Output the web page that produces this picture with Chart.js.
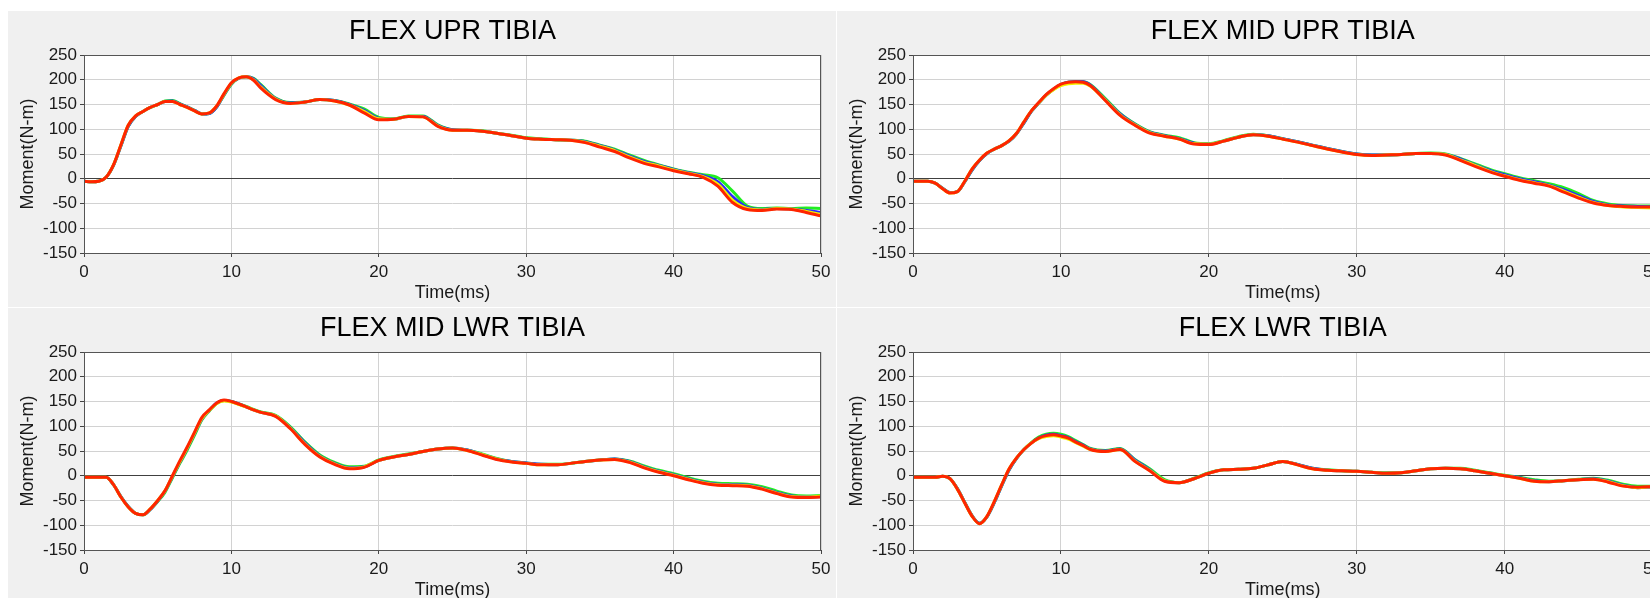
<!DOCTYPE html>
<html>
<head>
<meta charset="utf-8">
<script src="https://cdn.jsdelivr.net/npm/chart.js@4.4.1/dist/chart.umd.min.js"></script>
<style>
  html, body { margin: 0; padding: 0; background: #ffffff; width: 1650px; height: 598px; overflow: hidden; }
  .panel { position: absolute; }
  canvas { display: block; }
</style>
</head>
<body>
<div class="panel" style="left:8px;top:11px;"><canvas id="c1" width="828" height="296"></canvas></div>
<div class="panel" style="left:837px;top:11px;"><canvas id="c2" width="830" height="296"></canvas></div>
<div class="panel" style="left:8px;top:308px;"><canvas id="c3" width="828" height="296"></canvas></div>
<div class="panel" style="left:837px;top:308px;"><canvas id="c4" width="830" height="296"></canvas></div>
<script>
// ---- shared categories (time, ms) ----
const times = [0,0.5,1,1.5,2,2.5,3,3.5,4,4.5,5,5.5,6,6.5,7,7.5,8,8.5,9,9.5,10,10.5,11,11.5,12,
  13,14,15,16,17,18,19,20,21,22,23,24,25,26,27,28,29,30,31,32,33,34,35,36,37,38,39,40,41,42,43,44,45,46,47,48,49,50];

// ---- tick labels ----
const xTicks = [0,10,20,30,40,50];
const yTicks = [-150,-100,-50,0,50,100,150,200,250];

// ---- titles ----
const titles = ['FLEX UPR TIBIA','FLEX MID UPR TIBIA','FLEX MID LWR TIBIA','FLEX LWR TIBIA'];
const seriesNames = ['Run 4','Run 3','Run 2','Run 1'];
const seriesColors = ['#ff2400','#f2f200','#2a2aff','#22ee22'];

// ---- FLEX UPR TIBIA ----
const uprRed =    [-5,-6,-5,3,28,68,108,127,136,144,150,156,156,150,144,137,131,133,147,172,194,204,206,199,183,
  160,152,155,160,157,149,133,119,120,126,125,106,98,98,96,92,87,82,80,79,78,73,64,55,42,31,24,16,10,3,-15,-48,-62,-64,-61,-62,-68,-75];
const uprYellow = [-5,-6,-5,3,28,68,108,127,136,144,150,156,156,150,144,137,131,133,147,171,193,204,206,200,185,
  161,152,155,160,157,149,136,121,120,126,125,107,98,98,96,92,87,82,80,79,78,74,66,57,44,33,26,18,11,4,-11,-43,-60,-63,-60,-61,-66,-72];
const uprBlue =   [-5,-6,-5,3,27,66,106,126,136,144,150,156,157,151,145,138,131,132,145,170,192,203,206,202,188,
  162,153,155,160,158,150,138,122,120,126,126,108,99,98,96,92,87,82,80,79,78,75,67,58,46,35,27,19,12,6,-6,-36,-58,-62,-60,-61,-64,-68];
const uprGreen =  [-5,-6,-5,3,27,66,106,126,136,144,150,157,158,152,145,138,131,132,145,169,191,203,206,203,190,
  163,154,155,160,158,151,141,124,121,127,127,109,99,98,97,92,88,83,81,79,78,76,68,60,48,37,28,20,13,8,2,-25,-55,-60,-59,-60,-59,-60];

// ---- FLEX MID UPR TIBIA ----
const mupRed =    [-5,-5,-5,-9,-20,-29,-26,-5,20,38,52,60,67,77,92,115,137,154,170,182,191,195,196,195,188,
  158,128,108,92,86,80,70,69,76,84,89,86,80,74,67,60,54,49,47,48,49,51,51,48,37,25,14,5,-3,-9,-15,-27,-39,-49,-54,-56,-57,-57];
const mupYellow = [-5,-5,-5,-9,-20,-29,-26,-5,20,38,52,60,67,77,92,115,137,153,169,180,188,192,193,193,187,
  159,129,109,93,86,80,71,70,76,84,89,86,80,74,67,60,54,49,47,48,49,51,51,49,38,27,15,6,-2,-8,-14,-25,-37,-48,-54,-57,-58,-59];
const mupBlue =   [-5,-5,-5,-9,-19,-28,-26,-6,18,37,51,60,67,76,91,113,136,153,169,181,190,195,196,196,189,
  160,131,110,94,87,81,72,70,76,84,89,87,81,75,68,61,55,50,48,48,49,51,51,49,40,28,17,8,0,-6,-13,-22,-34,-46,-53,-55,-56,-57];
const mupGreen =  [-5,-5,-5,-9,-19,-28,-26,-6,18,37,51,60,67,76,91,113,136,153,169,181,190,195,196,196,190,
  162,132,111,95,88,83,73,71,77,85,90,87,81,75,68,61,55,50,48,48,49,51,52,50,41,30,19,10,2,-4,-10,-18,-30,-44,-51,-54,-55,-55];

// ---- FLEX MID LWR TIBIA ----
const mlwRed =    [-3,-3,-3,-3,-18,-43,-63,-76,-79,-67,-50,-30,0,30,58,88,118,133,147,153,150,145,139,133,128,
  120,95,63,38,23,14,17,31,38,43,49,54,56,51,42,33,28,25,22,22,25,29,32,33,27,16,7,0,-8,-15,-19,-20,-21,-27,-36,-43,-44,-43];
const mlwYellow = [-3,-3,-3,-3,-18,-43,-63,-76,-79,-67,-50,-30,-1,28,56,86,116,132,146,151,149,144,139,133,128,
  121,96,64,39,24,15,18,31,38,43,49,54,56,51,43,34,28,25,22,22,25,29,32,33,28,17,8,1,-7,-14,-18,-19,-20,-26,-35,-42,-43,-41];
const mlwBlue =   [-3,-3,-3,-3,-18,-42,-62,-76,-79,-68,-51,-31,-2,27,55,85,115,132,147,152,150,145,139,133,128,
  121,97,66,40,25,16,18,31,38,43,49,54,56,52,43,34,29,26,23,22,25,29,32,34,29,18,9,2,-6,-13,-17,-18,-19,-25,-34,-41,-43,-42];
const mlwGreen =  [-3,-3,-3,-3,-18,-42,-62,-76,-79,-68,-52,-33,-4,25,52,82,113,131,146,152,150,145,140,134,129,
  122,99,68,42,27,18,19,32,39,44,49,54,56,52,44,35,29,26,23,23,25,29,32,34,30,20,11,4,-4,-11,-15,-16,-17,-22,-31,-39,-41,-40];

// ---- FLEX LWR TIBIA ----
const lwrRed =    [-3,-3,-3,-3,-1,-6,-27,-55,-82,-97,-82,-52,-18,14,36,53,66,76,81,83,80,76,68,61,53,
  49,53,29,10,-11,-14,-6,5,12,13,15,22,29,22,14,11,10,9,7,5,6,10,14,15,14,10,5,0,-5,-11,-12,-10,-8,-7,-13,-21,-23,-22];
const lwrYellow = [-3,-3,-3,-3,-1,-6,-27,-55,-82,-97,-82,-52,-18,14,36,53,66,75,79,81,78,74,67,60,53,
  49,53,30,11,-10,-14,-6,5,12,13,15,22,29,22,14,11,10,9,7,5,6,10,14,15,14,10,5,0,-5,-11,-12,-10,-8,-7,-12,-20,-24,-22];
const lwrBlue =   [-3,-3,-3,-3,-1,-6,-26,-54,-81,-96,-83,-54,-20,12,35,53,66,76,82,84,81,77,69,62,54,
  50,54,32,12,-10,-14,-6,5,12,13,15,22,29,23,15,11,10,9,7,5,6,10,14,15,14,10,5,0,-4,-10,-12,-10,-8,-6,-11,-19,-24,-23];
const lwrGreen =  [-3,-3,-3,-3,-1,-6,-26,-54,-81,-96,-83,-54,-20,12,35,53,67,78,84,86,84,79,71,63,55,
  51,55,33,14,-8,-14,-5,6,12,13,15,22,29,23,15,12,10,9,7,6,6,10,14,15,15,11,6,1,-3,-8,-11,-10,-7,-5,-9,-17,-21,-21];

const chartSeries = [
  [uprRed, uprYellow, uprBlue, uprGreen],
  [mupRed, mupYellow, mupBlue, mupGreen],
  [mlwRed, mlwYellow, mlwBlue, mlwGreen],
  [lwrRed, lwrYellow, lwrBlue, lwrGreen]
];

const FONT = '"Liberation Sans", Arial, sans-serif';

const panelPlugin = {
  id: 'panelDecor',
  beforeDraw(chart) {
    const { ctx, chartArea: a, width, height } = chart;
    ctx.save();
    ctx.fillStyle = '#f0f0f0';
    ctx.fillRect(0, 0, width, height);
    ctx.fillStyle = '#ffffff';
    ctx.fillRect(a.left, a.top, a.right - a.left, a.bottom - a.top);
    ctx.restore();
  },
  afterDraw(chart, args, opts) {
    const { ctx, chartArea: a } = chart;
    ctx.save();
    ctx.strokeStyle = '#555555';
    ctx.lineWidth = 1;
    ctx.strokeRect(Math.round(a.left) + 0.5, Math.round(a.top) + 0.5, Math.round(a.right - a.left) - 1, Math.round(a.bottom - a.top));
    ctx.fillStyle = '#000000';
    ctx.font = '27px ' + FONT;
    ctx.textAlign = 'center';
    ctx.textBaseline = 'alphabetic';
    ctx.fillText(opts.text, (a.left + a.right) / 2, 28);
    ctx.restore();
  }
};

function makeChart(id, idx, padRight) {
  const series = chartSeries[idx];
  const datasets = series.map((vals, i) => ({
    label: seriesNames[i],
    data: times.map((t, k) => ({ x: t, y: vals[k] })),
    borderColor: seriesColors[i],
    borderWidth: 3,
    pointRadius: 0,
    fill: false,
    cubicInterpolationMode: 'monotone'
  }));
  new Chart(document.getElementById(id), {
    type: 'line',
    data: { datasets },
    plugins: [panelPlugin],
    options: {
      responsive: false,
      animation: false,
      events: [],
      layout: { padding: { top: 44, right: padRight, left: 0, bottom: 0 } },
      plugins: {
        legend: { display: false },
        tooltip: { enabled: false },
        title: { display: false },
        panelDecor: { text: titles[idx] }
      },
      scales: {
        x: {
          type: 'linear',
          min: xTicks[0], max: xTicks[xTicks.length - 1],
          afterBuildTicks: s => { s.ticks = xTicks.map(v => ({ value: v })); },
          afterFit: s => { s.height = 54; },
          ticks: { font: { family: FONT, size: 17 }, color: '#1a1a1a', padding: 5, maxRotation: 0, autoSkip: false },
          grid: { color: '#d2d2d2', lineWidth: 1, tickLength: 4, tickColor: '#444444', drawTicks: true },
          border: { display: false },
          title: { display: true, text: 'Time(ms)', font: { family: FONT, size: 18 }, color: '#1a1a1a', padding: { top: 0, bottom: 3 } }
        },
        y: {
          type: 'linear',
          min: yTicks[0], max: yTicks[yTicks.length - 1],
          afterBuildTicks: s => { s.ticks = yTicks.map(v => ({ value: v })); },
          afterFit: s => { s.width = 76; },
          ticks: { font: { family: FONT, size: 17 }, color: '#1a1a1a', padding: 3 },
          grid: {
            color: c => (c.tick && c.tick.value === 0) ? '#404040' : '#d2d2d2',
            lineWidth: 1, tickLength: 4, tickColor: '#444444', drawTicks: true
          },
          border: { display: false },
          title: { display: true, text: 'Moment(N-m)', font: { family: FONT, size: 18 }, color: '#1a1a1a', padding: { top: 9, bottom: 0 } }
        }
      }
    }
  });
}

makeChart('c1', 0, 15);
makeChart('c2', 1, 14);
makeChart('c3', 2, 15);
makeChart('c4', 3, 14);
</script>
</body>
</html>
